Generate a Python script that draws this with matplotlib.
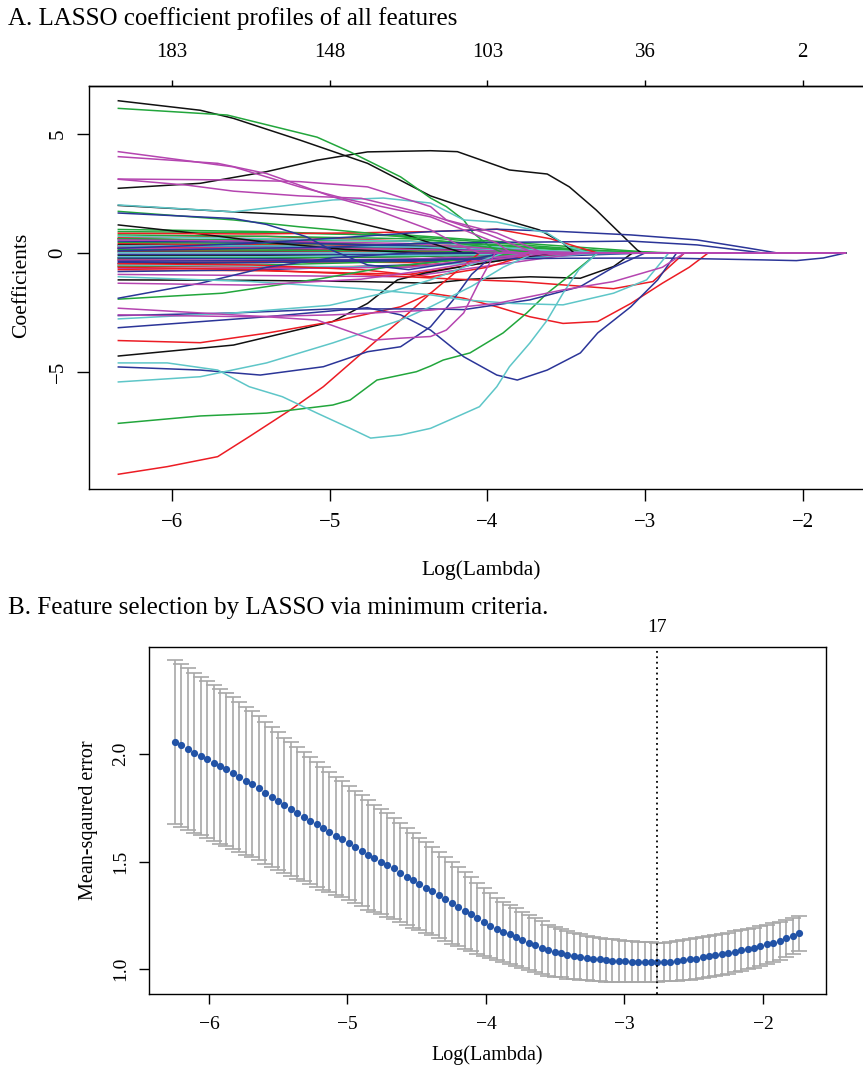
import matplotlib
matplotlib.use('Agg')
import matplotlib.pyplot as plt
import numpy as np

plt.rcParams['font.family'] = ['Liberation Serif', 'DejaVu Serif']

# ---------------- panel A: coefficient paths ----------------
loglam_first = -6.34
loglam_last = -1.73
top_ticks = [-6, -5, -4, -3, -2]
top_labels = ['183', '148', '103', '36', '2']

# big paths: (x knots, y knots); coefficient is 0 after the last knot
black_paths = [
    ([-6.34, -5.82, -5.61, -5.19, -4.76, -4.36, -4.15, -3.84, -3.67, -3.52, -3.45],
     [6.40, 6.00, 5.66, 4.75, 3.77, 2.40, 1.93, 1.30, 0.97, 0.42, 0]),
    ([-6.34, -5.82, -5.40, -5.08, -4.76, -4.36, -4.19, -3.98, -3.86, -3.62, -3.48, -3.31, -3.18, -3.05, -3.02],
     [2.72, 2.93, 3.42, 3.90, 4.25, 4.30, 4.26, 3.77, 3.49, 3.32, 2.78, 1.81, 0.97, 0.13, 0]),
    ([-6.34, -5.61, -4.98, -4.55, -4.36, -4.15],
     [2.00, 1.73, 1.52, 0.84, 0.42, 0]),
    ([-6.34, -5.88, -5.40, -4.90, -4.40],
     [1.18, 0.85, 0.45, 0.15, 0]),
    ([-6.34, -5.61, -4.98, -4.76, -4.57, -4.40, -4.10, -3.80, -3.60],
     [-4.33, -3.87, -2.88, -2.12, -1.13, -0.85, -0.50, -0.20, 0]),
    ([-6.34, -5.50, -4.80, -4.36, -4.10, -3.73, -3.41, -3.20, -3.08],
     [-1.13, -1.15, -1.20, -1.27, -1.10, -1.00, -1.06, -0.57, 0]),
]
green_paths = [
    ([-6.34, -5.65, -5.08, -4.87, -4.55, -4.36, -4.26, -4.15, -4.09, -3.98, -3.90],
     [6.08, 5.80, 4.87, 4.25, 3.20, 2.31, 1.95, 1.39, 0.84, 0.25, 0]),
    ([-6.34, -5.82, -5.40, -4.98, -4.87, -4.70, -4.45, -4.36, -4.28, -4.11, -3.90, -3.75, -3.62, -3.45, -3.30],
     [-7.16, -6.85, -6.73, -6.39, -6.18, -5.34, -4.99, -4.75, -4.50, -4.20, -3.36, -2.52, -1.69, -0.80, 0]),
    ([-6.34, -5.61, -5.19, -4.76, -4.36, -4.00, -3.70],
     [1.75, 1.39, 1.10, 0.84, 0.55, 0.25, 0]),
    ([-6.34, -5.68, -5.04, -4.62, -4.19, -3.80],
     [-1.94, -1.69, -1.06, -0.57, -0.29, 0]),
]
blue_paths = [
    ([-6.34, -5.61, -5.40, -5.15, -4.98, -4.76, -4.50, -4.20, -3.90],
     [1.68, 1.45, 1.20, 0.69, 0.10, -0.50, -0.70, -0.40, 0]),
    ([-6.34, -5.40, -4.76, -4.55, -4.36, -4.15, -3.94, -3.81, -3.62, -3.41, -3.30, -3.09, -2.92, -2.80],
     [-3.14, -2.68, -2.30, -2.60, -3.24, -4.36, -5.13, -5.34, -4.92, -4.20, -3.36, -2.26, -1.13, 0]),
    ([-6.34, -5.82, -5.44, -5.04, -4.76, -4.55, -4.36, -4.22, -4.10, -3.95],
     [-4.79, -4.92, -5.13, -4.78, -4.15, -3.94, -3.10, -2.00, -0.90, 0]),
    ([-6.34, -5.61, -4.98, -4.36, -4.15, -3.73, -3.41, -3.20, -3.00],
     [-2.63, -2.52, -2.35, -2.35, -2.38, -1.97, -1.41, -0.60, 0]),
    ([-6.34, -5.82, -5.40, -4.98, -4.50],
     [-1.90, -1.27, -0.60, -0.20, 0]),
    ([-6.34, -5.50, -4.80, -4.36, -3.94, -3.52, -3.09, -2.67, -2.35, -2.16],
     [0.20, 0.40, 0.70, 0.90, 1.00, 0.90, 0.76, 0.55, 0.21, 0]),
    ([-6.34, -5.00, -4.36, -3.52, -3.09, -2.67, -2.25],
     [0.10, 0.25, 0.42, 0.47, 0.50, 0.34, 0]),
    ([-6.34, -5.00, -4.00, -3.50, -2.89, -2.25, -2.04, -1.87, -1.73],
     [-0.35, -0.30, -0.25, -0.22, -0.21, -0.29, -0.32, -0.21, 0]),
]
cyan_paths = [
    ([-6.34, -5.61, -4.98, -4.66, -4.36, -4.15, -3.94, -3.62, -3.48, -3.35],
     [2.02, 1.73, 2.23, 2.31, 2.10, 1.39, 1.30, 0.84, 0.25, 0]),
    ([-6.34, -6.03, -5.71, -5.51, -5.30, -5.08, -4.87, -4.74, -4.55, -4.36, -4.24, -4.05, -3.94, -3.86, -3.73, -3.62, -3.52, -3.42, -3.30],
     [-4.62, -4.62, -4.92, -5.62, -6.04, -6.73, -7.37, -7.78, -7.65, -7.37, -7.02, -6.46, -5.62, -4.78, -3.78, -2.82, -1.69, -0.70, 0]),
    ([-6.34, -5.82, -5.40, -4.98, -4.55, -4.36, -4.10, -3.90, -3.70],
     [-5.42, -5.20, -4.62, -3.78, -2.82, -2.26, -1.40, -0.60, 0]),
    ([-6.34, -5.61, -5.00, -4.60, -4.36, -4.15, -3.90],
     [-2.77, -2.52, -2.20, -1.60, -1.13, -0.60, 0]),
    ([-6.34, -5.50, -4.80, -4.36, -4.15, -3.84, -3.52, -3.20, -2.99, -2.85],
     [-1.00, -1.20, -1.50, -1.76, -1.97, -2.12, -2.18, -1.69, -1.13, 0]),
]
magenta_paths = [
    ([-6.34, -5.61, -5.19, -4.87, -4.36, -4.15, -3.94, -3.85],
     [4.26, 3.62, 2.78, 2.23, 1.52, 0.97, 0.42, 0]),
    ([-6.34, -5.71, -5.40, -4.98, -4.76, -4.36, -4.20, -4.05],
     [4.05, 3.77, 3.34, 2.36, 1.95, 0.97, 0.40, 0]),
    ([-6.34, -5.61, -5.19, -4.76, -4.36, -4.26, -3.94, -3.73, -3.65],
     [3.11, 3.07, 3.00, 2.78, 1.95, 1.39, 0.84, 0.25, 0]),
    ([-6.34, -5.90, -5.61, -5.19, -4.80, -4.36, -4.00, -3.70],
     [3.10, 2.85, 2.60, 2.40, 2.30, 1.60, 0.80, 0]),
    ([-6.34, -5.40, -5.08, -4.72, -4.55, -4.36, -4.26, -4.15, -4.05, -3.95],
     [-2.32, -2.68, -2.82, -3.66, -3.58, -3.51, -3.24, -2.52, -1.20, 0]),
    ([-6.34, -5.50, -4.98, -4.36, -3.94, -3.52, -3.20, -2.89, -2.75],
     [-2.60, -2.68, -2.60, -2.40, -2.12, -1.55, -1.20, -0.60, 0]),
    ([-6.34, -5.50, -4.80, -4.36, -4.00, -3.60],
     [-1.27, -1.35, -1.10, -0.70, -0.30, 0]),
]
red_paths = [
    ([-6.34, -6.03, -5.71, -5.51, -5.25, -5.04, -4.87, -4.70, -4.55, -4.36, -4.20, -4.05],
     [-9.30, -8.98, -8.56, -7.72, -6.60, -5.62, -4.64, -3.66, -2.82, -1.69, -0.80, 0]),
    ([-6.34, -5.82, -5.40, -4.98, -4.55, -4.36, -4.15, -3.94, -3.73, -3.52, -3.30, -3.09, -2.89, -2.72, -2.60],
     [-3.68, -3.77, -3.37, -2.88, -2.26, -1.69, -1.90, -2.26, -2.68, -2.96, -2.88, -2.12, -1.27, -0.60, 0]),
    ([-6.34, -5.50, -4.80, -4.20, -3.80, -3.50, -3.20, -2.95, -2.75],
     [-0.60, -0.70, -0.90, -1.10, -1.20, -1.35, -1.50, -1.20, 0]),
    ([-6.34, -5.50, -4.80, -4.36, -3.94, -3.60, -3.30],
     [0.83, 0.80, 0.85, 0.90, 1.00, 0.60, 0]),
    ([-6.34, -5.50, -4.80, -4.36, -4.00, -3.70],
     [-0.45, -0.50, -0.70, -1.00, -0.60, 0]),
]

# small coefficients near zero: values at small_knots_x, then zero from x_end on
small_knots_x = [-6.34, -5.4, -4.5]
black_small = [(0.35, 0.30, 0.20, -3.6), (0.20, 0.18, 0.10, -3.2), (0.05, 0.05, 0.03, -3.0),
               (-0.10, -0.10, -0.08, -3.3), (-0.25, -0.22, -0.15, -3.5), (0.60, 0.50, 0.30, -3.9),
               (-0.45, -0.40, -0.30, -3.8)]
green_small = [(0.99, 0.90, 0.70, -3.1), (0.90, 0.85, 0.75, -2.9), (0.76, 0.70, 0.60, -3.2),
               (0.60, 0.55, 0.50, -3.0), (0.45, 0.40, 0.35, -2.8), (0.15, 0.12, 0.10, -3.4),
               (-0.20, -0.20, -0.15, -3.6), (-0.55, -0.50, -0.35, -3.9)]
red_small = [(0.65, 0.70, 0.50, -3.5), (0.40, 0.35, 0.30, -3.3), (0.10, 0.10, 0.08, -2.9),
             (-0.30, -0.35, -0.40, -3.2), (-0.55, -0.60, -0.55, -3.4), (-0.70, -0.75, -0.90, -3.6),
             (0.25, 0.20, 0.15, -3.7)]
blue_small = [(0.50, 0.45, 0.30, -3.6), (-0.05, -0.05, -0.05, -3.1), (-0.40, -0.40, -0.30, -3.4),
              (-0.78, -0.70, -0.50, -3.8), (0.30, 0.28, 0.25, -3.3), (-0.20, -0.25, -0.35, -3.0)]
cyan_small = [(0.70, 0.60, 0.50, -3.4), (0.30, 0.30, 0.25, -3.1), (-0.15, -0.15, -0.10, -2.9),
              (-0.50, -0.55, -0.60, -3.3), (0.02, 0.02, 0.01, -2.5)]
magenta_small = [(0.55, 0.50, 0.40, -3.5), (0.20, 0.20, 0.15, -3.2), (-0.30, -0.30, -0.25, -3.3),
                 (-0.64, -0.65, -0.60, -3.7), (-0.90, -0.95, -1.00, -3.4)]

col_black = '#111111'
col_red = '#ec1c24'
col_green = '#22a63c'
col_blue = '#2b3598'
col_cyan = '#5ec6c8'
col_magenta = '#b545b0'

# ---------------- panel B: cross validation ----------------
cvm = [2.057, 2.040, 2.023, 2.007, 1.991, 1.975, 1.960, 1.944, 1.929, 1.911,
       1.894, 1.876, 1.859, 1.840, 1.820, 1.800, 1.781, 1.762, 1.744, 1.726,
       1.708, 1.691, 1.674, 1.655, 1.637, 1.620, 1.603, 1.586, 1.569, 1.550,
       1.530, 1.515, 1.499, 1.484, 1.468, 1.448, 1.429, 1.412, 1.395, 1.379,
       1.363, 1.345, 1.327, 1.308, 1.290, 1.272, 1.254, 1.236, 1.219, 1.202,
       1.186, 1.173, 1.161, 1.148, 1.135, 1.123, 1.112, 1.100, 1.088, 1.080,
       1.073, 1.066, 1.060, 1.055, 1.051, 1.048, 1.045, 1.042, 1.039, 1.037,
       1.036, 1.035, 1.034, 1.033, 1.033, 1.031, 1.033, 1.035, 1.037, 1.041,
       1.045, 1.049, 1.054, 1.059, 1.064, 1.069, 1.074, 1.080, 1.087, 1.093,
       1.099, 1.107, 1.115, 1.123, 1.132, 1.143, 1.155, 1.166]
cvsd = [0.380, 0.378, 0.375, 0.372, 0.369, 0.366, 0.363, 0.360, 0.356, 0.353,
        0.350, 0.345, 0.340, 0.335, 0.330, 0.325, 0.320, 0.315, 0.310, 0.305,
        0.300, 0.295, 0.290, 0.285, 0.280, 0.275, 0.270, 0.265, 0.260, 0.258,
        0.255, 0.250, 0.245, 0.240, 0.235, 0.230, 0.225, 0.220, 0.215, 0.210,
        0.205, 0.200, 0.195, 0.190, 0.185, 0.178, 0.172, 0.165, 0.158, 0.152,
        0.145, 0.141, 0.138, 0.134, 0.131, 0.128, 0.125, 0.122, 0.118, 0.115,
        0.112, 0.110, 0.108, 0.106, 0.104, 0.103, 0.101, 0.100, 0.099, 0.098,
        0.096, 0.095, 0.094, 0.093, 0.092, 0.090, 0.090, 0.091, 0.092, 0.093,
        0.094, 0.095, 0.095, 0.096, 0.096, 0.096, 0.095, 0.095, 0.094, 0.094,
        0.093, 0.093, 0.092, 0.090, 0.088, 0.086, 0.083, 0.081]
cv_loglam = np.linspace(-6.245, -1.74, len(cvm))
min_index = 75
min_label = '17'

fig = plt.figure(figsize=(8.63, 10.70), dpi=100)
W, H = 863.0, 1070.0

# ---- panel A
axA = fig.add_axes([89 / W, 1 - 489 / H, 785 / W, 403 / H])


def draw_path(ax, xs, ys, color):
    xs = list(xs)
    ys = list(ys)
    if xs[-1] < loglam_last:
        xs.append(loglam_last)
        ys.append(0)
    ax.plot(xs, ys, color=color, lw=1.1, solid_joinstyle='round')


def draw_small(ax, rows, color):
    for row in rows:
        draw_path(ax, small_knots_x + [row[3]], list(row[:3]) + [0], color)


for rows, c in [(black_small, col_black), (red_small, col_red), (green_small, col_green),
                (blue_small, col_blue), (cyan_small, col_cyan), (magenta_small, col_magenta)]:
    draw_small(axA, rows, c)
for paths, c in [(black_paths, col_black), (red_paths, col_red), (green_paths, col_green),
                 (blue_paths, col_blue), (cyan_paths, col_cyan), (magenta_paths, col_magenta)]:
    for xs, ys in paths:
        draw_path(axA, xs, ys, c)

axA.set_xlim(-6.526, -1.548)
axA.set_ylim(-9.92, 7.02)
axA.set_xticks([-6, -5, -4, -3, -2])
axA.set_yticks([-5, 0, 5])
axA.tick_params(direction='out', length=8.5, width=1.0, labelsize=15, pad=9)
axA.tick_params(axis='y', pad=7)
for lbl in axA.get_yticklabels():
    lbl.set_rotation(90)
    lbl.set_va('center')
secA = axA.secondary_xaxis('top')
secA.set_xticks(top_ticks, labels=top_labels)
secA.tick_params(direction='out', length=4.5, width=1.0, labelsize=15, pad=13)
for sp in list(axA.spines.values()) + list(secA.spines.values()):
    sp.set_linewidth(1.0)

fig.text(8 / W, 1 - 19 / H, 'A. LASSO coefficient profiles of all features',
         fontsize=18, ha='left', va='center')
fig.text(481 / W, 1 - 570 / H, 'Log(Lambda)', fontsize=15.5, ha='center', va='center')
fig.text(22 / W, 1 - 285 / H, 'Coefficients', fontsize=15.5, ha='center', va='center',
         rotation=90)

# ---- panel B
axB = fig.add_axes([149 / W, 1 - 994 / H, 677 / W, 347 / H])
axB.errorbar(cv_loglam, cvm, yerr=cvsd, fmt='none', ecolor='#a8a8a8',
             elinewidth=1.2, capsize=5.5, capthick=1.2)
axB.plot(cv_loglam, cvm, 'o', color='#2152a6', markersize=5.2, markeredgewidth=0)
axB.axvline(cv_loglam[min_index], color='black', lw=1.3, linestyle=(0, (1, 2)))
axB.annotate(min_label, xy=(cv_loglam[min_index], 1.0), xycoords=('data', 'axes fraction'),
             xytext=(0, 14), textcoords='offset points', ha='center', va='center',
             fontsize=14)
axB.set_xlim(-6.433, -1.545)
axB.set_ylim(0.884, 2.498)
axB.set_xticks([-6, -5, -4, -3, -2])
axB.set_yticks([1.0, 1.5, 2.0])
axB.set_yticklabels(['1.0', '1.5', '2.0'])
axB.tick_params(direction='out', length=7.5, width=1.0, labelsize=14, pad=8)
axB.tick_params(axis='y', pad=7)
for lbl in axB.get_yticklabels():
    lbl.set_rotation(90)
    lbl.set_va('center')
for sp in axB.spines.values():
    sp.set_linewidth(1.0)

fig.text(8 / W, 1 - 608 / H, 'B. Feature selection by LASSO via minimum criteria.',
         fontsize=18, ha='left', va='center')
fig.text(487 / W, 1 - 1055 / H, 'Log(Lambda)', fontsize=14.5, ha='center', va='center')
fig.text(88 / W, 1 - 820 / H, 'Mean-sqaured error', fontsize=14.5, ha='center', va='center',
         rotation=90)

fig.savefig('out.png', dpi=100)
